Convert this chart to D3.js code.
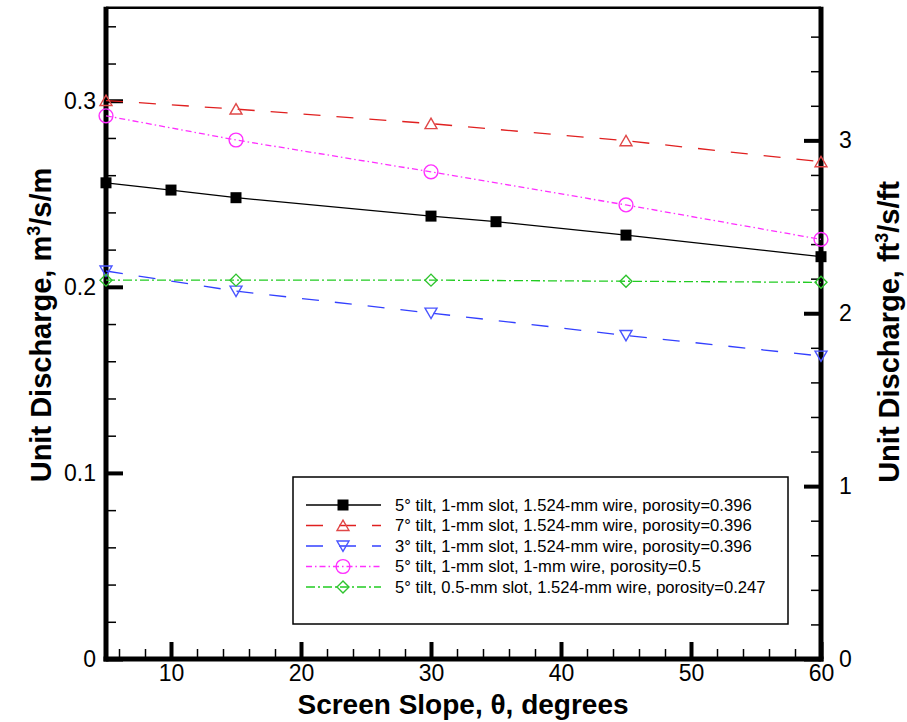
<!DOCTYPE html>
<html>
<head>
<meta charset="utf-8">
<script src="https://cdn.jsdelivr.net/npm/d3@7"></script>
<style>
  html, body { margin: 0; padding: 0; background: #fff; }
  svg { display: block; font-family: "Liberation Sans", Arial, sans-serif; }
</style>
</head>
<body>
<svg id="chart" width="907" height="722"></svg>
<script>
// ---- data ----
const slopesBlack = [5, 10, 15, 30, 35, 45, 60];
const qBlack = [0.2559, 0.2520, 0.2479, 0.2380, 0.2350, 0.2278, 0.2162];
const slopes = [5, 15, 30, 45, 60];
const qRed = [0.3001, 0.2955, 0.2877, 0.2785, 0.2672];
const qBlue = [0.2085, 0.1977, 0.1859, 0.1739, 0.1628];
const qMagenta = [0.2919, 0.2789, 0.2618, 0.2440, 0.2255];
const qGreen = [0.2036, 0.2036, 0.2036, 0.2030, 0.2024];
const seriesLabels = [
  "5\u00b0 tilt, 1-mm slot, 1.524-mm wire, porosity=0.396",
  "7\u00b0 tilt, 1-mm slot, 1.524-mm wire, porosity=0.396",
  "3\u00b0 tilt, 1-mm slot, 1.524-mm wire, porosity=0.396",
  "5\u00b0 tilt, 1-mm slot, 1-mm wire, porosity=0.5",
  "5\u00b0 tilt, 0.5-mm slot, 1.524-mm wire, porosity=0.247"
];
const xMajorTicks = [10, 20, 30, 40, 50, 60];
const yMajorTicks = [0, 0.1, 0.2, 0.3];
const y2MajorTicks = [0, 1, 2, 3];
const M_TO_FT = 10.7639;

// ---- layout ----
const svg = d3.select("#chart");
const L = 106, R = 821, T = 7.7, B = 659;
const x = d3.scaleLinear().domain([5, 60]).range([L, R]);
const y = d3.scaleLinear().domain([0, 0.35]).range([B, T]);
const y2 = d3.scaleLinear().domain([0, 0.35 * M_TO_FT]).range([B, T]);

const xMinor = d3.range(6, 60, 2).filter(v => v % 10 !== 0);
const yMinor = d3.range(0, 0.35, 0.02).map(v => +v.toFixed(2)).filter(v => Math.abs(v * 10 - Math.round(v * 10)) > 1e-6);
const y2Minor = d3.range(0, 3.77, 0.2).map(v => +v.toFixed(1)).filter(v => Math.abs(v - Math.round(v)) > 1e-6);

function styleAxis(g, width, fontSize) {
  g.select(".domain").remove();
  g.selectAll(".tick line").attr("stroke", "#000").attr("stroke-width", width);
  g.selectAll(".tick text").attr("fill", "#000").attr("font-size", fontSize).attr("font-family", "Liberation Sans, Arial, sans-serif");
}

// minor ticks
svg.append("g").attr("transform", `translate(0,${B})`)
  .call(d3.axisBottom(x).tickValues(xMinor).tickSizeInner(-10).tickSizeOuter(0).tickFormat(""))
  .call(g => styleAxis(g, 1.5, 0));
svg.append("g").attr("transform", `translate(${L},0)`)
  .call(d3.axisLeft(y).tickValues(yMinor).tickSizeInner(-10).tickSizeOuter(0).tickFormat(""))
  .call(g => styleAxis(g, 1.5, 0));
svg.append("g").attr("transform", `translate(${R},0)`)
  .call(d3.axisRight(y2).tickValues(y2Minor).tickSizeInner(-10).tickSizeOuter(0).tickFormat(""))
  .call(g => styleAxis(g, 1.5, 0));

// major ticks with labels
svg.append("g").attr("transform", `translate(0,${B})`)
  .call(d3.axisBottom(x).tickValues(xMajorTicks).tickSizeInner(-17).tickSizeOuter(0).tickPadding(6).tickFormat(d3.format("d")))
  .call(g => styleAxis(g, 4, 23));
svg.append("g").attr("transform", `translate(${L},0)`)
  .call(d3.axisLeft(y).tickValues(yMajorTicks).tickSizeInner(-17).tickSizeOuter(0).tickPadding(10).tickFormat(d => d === 0 ? "0" : d3.format(".1f")(d)))
  .call(g => styleAxis(g, 4, 23));
svg.append("g").attr("transform", `translate(${R},0)`)
  .call(d3.axisRight(y2).tickValues(y2MajorTicks).tickSizeInner(-17).tickSizeOuter(0).tickPadding(18).tickFormat(d3.format("d")))
  .call(g => styleAxis(g, 4, 23));

// frame
svg.append("line").attr("x1", L).attr("x2", R).attr("y1", T).attr("y2", T).attr("stroke", "#000").attr("stroke-width", 2.5);
svg.append("line").attr("x1", L - 2.5).attr("x2", R + 2.5).attr("y1", B).attr("y2", B).attr("stroke", "#000").attr("stroke-width", 5);
svg.append("line").attr("x1", L).attr("x2", L).attr("y1", T - 1).attr("y2", B + 2.5).attr("stroke", "#000").attr("stroke-width", 5);
svg.append("line").attr("x1", R).attr("x2", R).attr("y1", T - 1).attr("y2", B + 2.5).attr("stroke", "#000").attr("stroke-width", 5);

// axis titles
const lt = svg.append("text").attr("transform", `translate(51,325) rotate(-90)`)
  .attr("text-anchor", "middle").attr("font-size", 29).attr("font-weight", "bold").attr("fill", "#000");
lt.append("tspan").text("Unit Discharge, m");
lt.append("tspan").attr("dy", -11).attr("font-size", 18).text("3");
lt.append("tspan").attr("dy", 11).text("/s/m");

const rt = svg.append("text").attr("transform", `translate(899,332) rotate(-90)`)
  .attr("text-anchor", "middle").attr("font-size", 29).attr("font-weight", "bold").attr("fill", "#000");
rt.append("tspan").text("Unit Discharge, ft");
rt.append("tspan").attr("dy", -11).attr("font-size", 18).text("3");
rt.append("tspan").attr("dy", 11).text("/s/ft");

svg.append("text").attr("x", 463).attr("y", 714).attr("text-anchor", "middle")
  .attr("font-size", 28).attr("font-weight", "bold").attr("fill", "#000")
  .text("Screen Slope, \u03b8, degrees");

// ---- series ----
const sym = {
  square: d3.symbol().type(d3.symbolSquare).size(121),
  circle: d3.symbol().type(d3.symbolCircle).size(150),
  diamond: d3.symbol().type(d3.symbolSquare).size(72),
  tri: d3.symbol().type(d3.symbolTriangle).size(62)
};
const series = [
  { xs: slopesBlack, ys: qBlack, color: "#000", mcolor: "#000", dash: null, marker: "square", fill: "#000", rot: 0 },
  { xs: slopes, ys: qRed, color: "#e02020", mcolor: "#e04848", dash: "17,16", marker: "tri", fill: "none", rot: 0 },
  { xs: slopes, ys: qBlue, color: "#3340ff", mcolor: "#4a55ff", dash: "17,16", marker: "tri", fill: "none", rot: 180 },
  { xs: slopes, ys: qMagenta, color: "#ff30ff", mcolor: "#ff30ff", dash: "6,3,1.5,3", marker: "circle", fill: "none", rot: 0 },
  { xs: slopes, ys: qGreen, color: "#22cc22", mcolor: "#2ec42e", dash: "9,3,2,3", marker: "diamond", fill: "none", rot: 45 }
];
series.forEach((s, i) => { s.label = seriesLabels[i]; s.pts = s.xs.map((v, j) => [v, s.ys[j]]); });

const line = d3.line().x(d => x(d[0])).y(d => y(d[1]));
const gLines = svg.append("g");
series.forEach(s => {
  gLines.append("path").attr("d", line(s.pts)).attr("fill", "none")
    .attr("stroke", s.color).attr("stroke-width", 1.3)
    .attr("stroke-dasharray", s.dash);
});
function drawMarker(g, s, cx, cy) {
  const rot = s.rot;
  const dy = s.marker === "tri" ? (rot === 180 ? -1.5 : 1.5) : 0;
  g.append("path").attr("d", sym[s.marker]())
    .attr("transform", `translate(${cx},${cy + dy}) rotate(${rot})`)
    .attr("fill", s.fill).attr("stroke", s.mcolor).attr("stroke-width", s.fill === "none" ? 1.4 : 0);
}
const gMarks = svg.append("g");
series.forEach(s => s.pts.forEach(p => drawMarker(gMarks, s, x(p[0]), y(p[1]))));

// ---- legend ----
const lg = svg.append("g");
lg.append("rect").attr("x", 293).attr("y", 477).attr("width", 495).attr("height", 147)
  .attr("fill", "#fff").attr("stroke", "#000").attr("stroke-width", 1.5);
series.forEach((s, i) => {
  const cy = 505 + i * 20.5;
  lg.append("line").attr("x1", 306).attr("x2", 381).attr("y1", cy).attr("y2", cy)
    .attr("stroke", s.color).attr("stroke-width", 1.3).attr("stroke-dasharray", s.dash);
  drawMarker(lg, s, 343, cy);
  lg.append("text").attr("x", 395).attr("y", cy).attr("dy", "0.35em")
    .attr("font-size", 16.6).attr("fill", "#000").text(s.label);
});
</script>
</body>
</html>
